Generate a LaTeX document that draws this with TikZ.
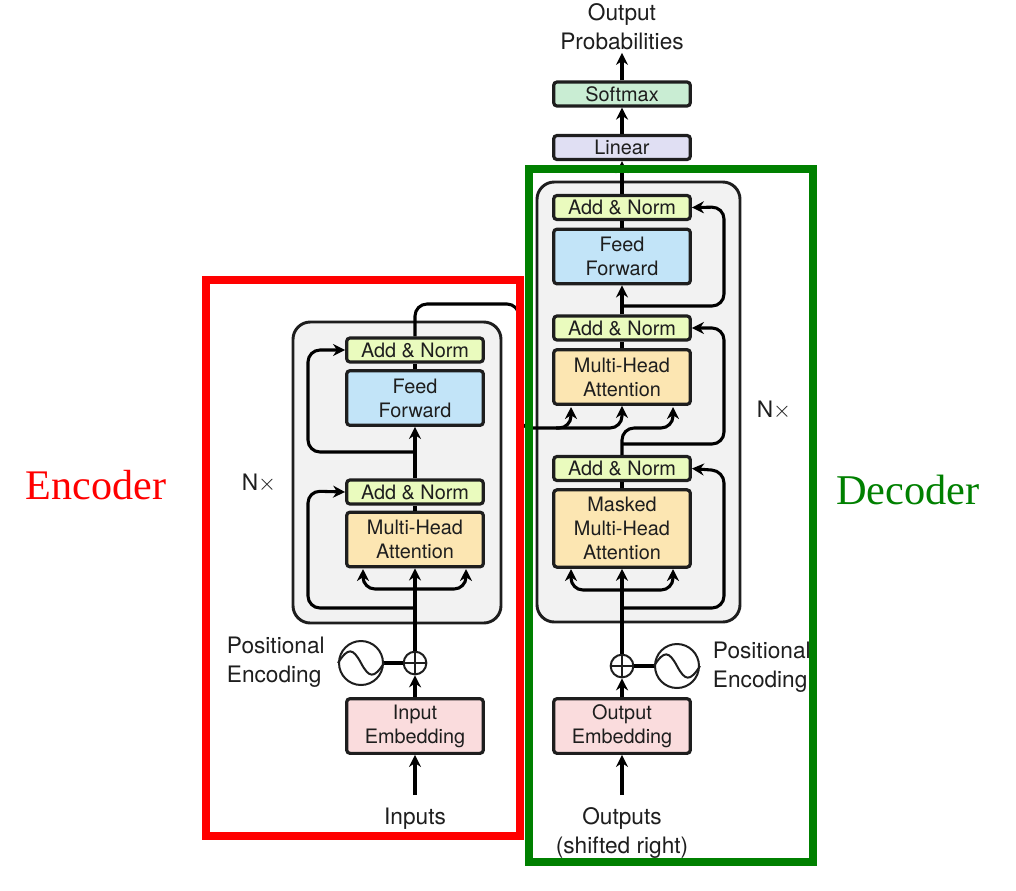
\documentclass[tikz,border=0pt]{standalone}
\usepackage{fontspec}
\setmainfont{TeX Gyre Heros}
\newfontfamily\bigserif{Liberation Serif}
\usetikzlibrary{arrows, arrows.meta}
\usetikzlibrary{positioning}
\definecolor{normfill}{HTML}{EAFBBE}
\definecolor{feedfill}{HTML}{C2E4F8}
\definecolor{attnfill}{HTML}{FCE6B2}
\definecolor{embedfill}{HTML}{FADCDD}
\definecolor{linearfill}{HTML}{E0DFF3}
\definecolor{softfill}{HTML}{C9EDD3}
\definecolor{stackfill}{HTML}{F2F2F2}
\definecolor{inkdark}{HTML}{1E1E1E}
\definecolor{deepgreen}{HTML}{008000}
\tikzset{
  blockbox/.style={draw=inkdark,line width=2.4pt,rounded corners=2.5pt,minimum width=102.5pt,
    align=center,inner sep=0pt,text=inkdark,font=\fontsize{14.9}{18}\selectfont},
  normbox/.style={blockbox,fill=normfill,minimum height=18pt},
  feedbox/.style={blockbox,fill=feedfill,minimum height=41pt},
  attnbox/.style={blockbox,fill=attnfill,minimum height=41pt},
  maskbox/.style={blockbox,fill=attnfill,minimum height=58pt},
  embedbox/.style={blockbox,fill=embedfill,minimum height=41pt},
  linearbox/.style={blockbox,fill=linearfill,minimum height=18pt},
  softbox/.style={blockbox,fill=softfill,minimum height=18pt},
  stackbox/.style={draw=inkdark,line width=2.2pt,fill=stackfill,rounded corners=13pt},
  flow/.style={draw=black,line width=2.3pt,rounded corners=9pt,-{Stealth[length=9pt,width=9pt]}},
  flat/.style={draw=black,line width=2.3pt,rounded corners=9pt},
  caption/.style={align=center,inner sep=2pt,text=inkdark,font=\fontsize{17}{21.5}\selectfont},
  sumnode/.style={circle,draw=inkdark,fill=white,line width=1.5pt,minimum size=17pt,inner sep=0pt},
  wavenode/.style={circle,draw=inkdark,fill=white,line width=1.5pt,minimum size=33pt,inner sep=0pt},
}
\begin{document}
\begin{tikzpicture}[x=0.75pt,y=-0.75pt]
\useasboundingbox (0,0) rectangle (1016,890);
% grey stacks
\draw[stackbox] (293,322) rectangle (501,623);
\draw[stackbox] (537,182) rectangle (740,622);
% encoder blocks
\node[normbox] (normAtop) at (415,350) {Add \& Norm};
\node[feedbox] (feedA) at (415,398) {Feed\\Forward};
\node[normbox] (normAlow) at (415,492) {Add \& Norm};
\node[attnbox] (attnA) at (415,539.5) {Multi-Head\\Attention};
\node[embedbox] (embedA) at (415,726) {Input\\Embedding};
\node[sumnode] (sumA) at (415,663) {};
\node[wavenode] (waveA) at (361,663) {};
\node[caption,text width=105pt,align=left,anchor=west] (posA) at (224,662) {Positional\\Encoding};
\node[caption] (inputsA) at (415,819) {Inputs};
\node[caption] (nA) at (259,483) {N$\times$};
% decoder blocks
\node[normbox] (normBtop) at (622,207.5) {Add \& Norm};
\node[feedbox] (feedB) at (622,256.5) {Feed\\Forward};
\node[normbox] (normBmid) at (622,328) {Add \& Norm};
\node[attnbox] (attnB) at (622,377) {Multi-Head\\Attention};
\node[normbox] (normBlow) at (622,468.5) {Add \& Norm};
\node[maskbox] (maskB) at (622,528.5) {Masked\\Multi-Head\\Attention};
\node[embedbox] (embedB) at (622,726) {Output\\Embedding};
\node[sumnode] (sumB) at (622,666) {};
\node[wavenode] (waveB) at (677,666) {};
\node[caption,text width=105pt,align=left,anchor=west] (posB) at (710,667) {Positional\\Encoding};
\node[caption] (outputsB) at (622,833) {Outputs\\(shifted right)};
\node[caption] (nB) at (774,410) {N$\times$};
\node[linearbox] (linearB) at (622,147.5) {Linear};
\node[softbox] (softB) at (622,94) {Softmax};
\node[caption] (probsB) at (622,27) {Output\\Probabilities};
% free ends
\coordinate (tipAl) at (363,569);
\coordinate (tipAr) at (466,569);
\coordinate (splitA) at (415,589);
\coordinate (resAlow) at (415,608);
\coordinate (resAtop) at (415,452);
\coordinate (tipBl) at (571,569);
\coordinate (tipBr) at (673,569);
\coordinate (splitB) at (622,590);
\coordinate (resBlow) at (622,608);
\coordinate (resBmid) at (622,444);
\coordinate (resBtop) at (622,306);
\coordinate (tipCl) at (571,407);
\coordinate (tipCr) at (673,407);
\coordinate (crossB) at (556,428);
\coordinate (startA) at (415,795);
\coordinate (startB) at (622,795);
% encoder connectors
\draw[flow] (startA) -- (embedA.south);
\draw[flow] (embedA.north) -- (sumA.south);
\draw[flow] (sumA.north) -- (attnA.south);
\draw[flow] (splitA) -- (363,589) -- (tipAl);
\draw[flow] (splitA) -- (466,589) -- (tipAr);
\draw[flow] (resAlow) -- (308,608) -- (308,491) -- (normAlow.west);
\draw[flat] (attnA.north) -- (normAlow.south);
\draw[flow] (normAlow.north) -- (feedA.south);
\draw[flow] (resAtop) -- (308,452) -- (308,350) -- (normAtop.west);
\draw[flat] (feedA.north) -- (normAtop.south);
\draw[flat] (sumA.west) -- (waveA.east);
% encoder to decoder
\draw[flow] (normAtop.north) -- (415,304) -- (519,304) -- (519,428) -- (571,428) -- (tipCl);
\draw[flow] (crossB) -- (622,428) -- (attnB.south);
% decoder connectors
\draw[flow] (startB) -- (embedB.south);
\draw[flow] (embedB.north) -- (sumB.south);
\draw[flow] (sumB.north) -- (maskB.south);
\draw[flow] (splitB) -- (571,590) -- (tipBl);
\draw[flow] (splitB) -- (673,590) -- (tipBr);
\draw[flow] (resBlow) -- (724,608) -- (724,471) -- (normBlow.east);
\draw[flat] (maskB.north) -- (normBlow.south);
\draw[flow] (normBlow.north) -- (622,428) -- (673,428) -- (tipCr);
\draw[flow] (resBmid) -- (724,444) -- (724,328) -- (normBmid.east);
\draw[flat] (attnB.north) -- (normBmid.south);
\draw[flow] (normBmid.north) -- (feedB.south);
\draw[flow] (resBtop) -- (724,306) -- (724,207) -- (normBtop.east);
\draw[flat] (feedB.north) -- (normBtop.south);
\draw[flow] (normBtop.north) -- (linearB.south);
\draw[flow] (linearB.north) -- (softB.south);
\draw[flow] (softB.north) -- (probsB.south);
\draw[flat] (sumB.east) -- (waveB.west);
% plus signs and waves
\draw[line width=1.5pt,draw=inkdark] (sumA.north) -- (sumA.south) (sumA.west) -- (sumA.east);
\draw[line width=1.5pt,draw=inkdark] (sumB.north) -- (sumB.south) (sumB.west) -- (sumB.east);
\draw[line width=1.5pt,draw=inkdark] (waveA.west) .. controls +(10,-16) and +(-8,-15) .. (waveA.center) .. controls +(8,15) and +(-10,16) .. (waveA.east);
\draw[line width=1.5pt,draw=inkdark] (waveB.west) .. controls +(10,-16) and +(-8,-15) .. (waveB.center) .. controls +(8,15) and +(-10,16) .. (waveB.east);
% outer frames
\draw[red,line width=6pt] (206,280) rectangle (520,836);
\draw[deepgreen,line width=6pt] (529,169) rectangle (813,862);
\node[text=red,font=\bigserif\fontsize{31.6}{36}\selectfont,inner sep=0pt] (encoderT) at (96,485) {Encoder};
\node[text=deepgreen,font=\bigserif\fontsize{31.8}{36}\selectfont,inner sep=0pt] (decoderT) at (908,490) {Decoder};
\end{tikzpicture}
\end{document}
